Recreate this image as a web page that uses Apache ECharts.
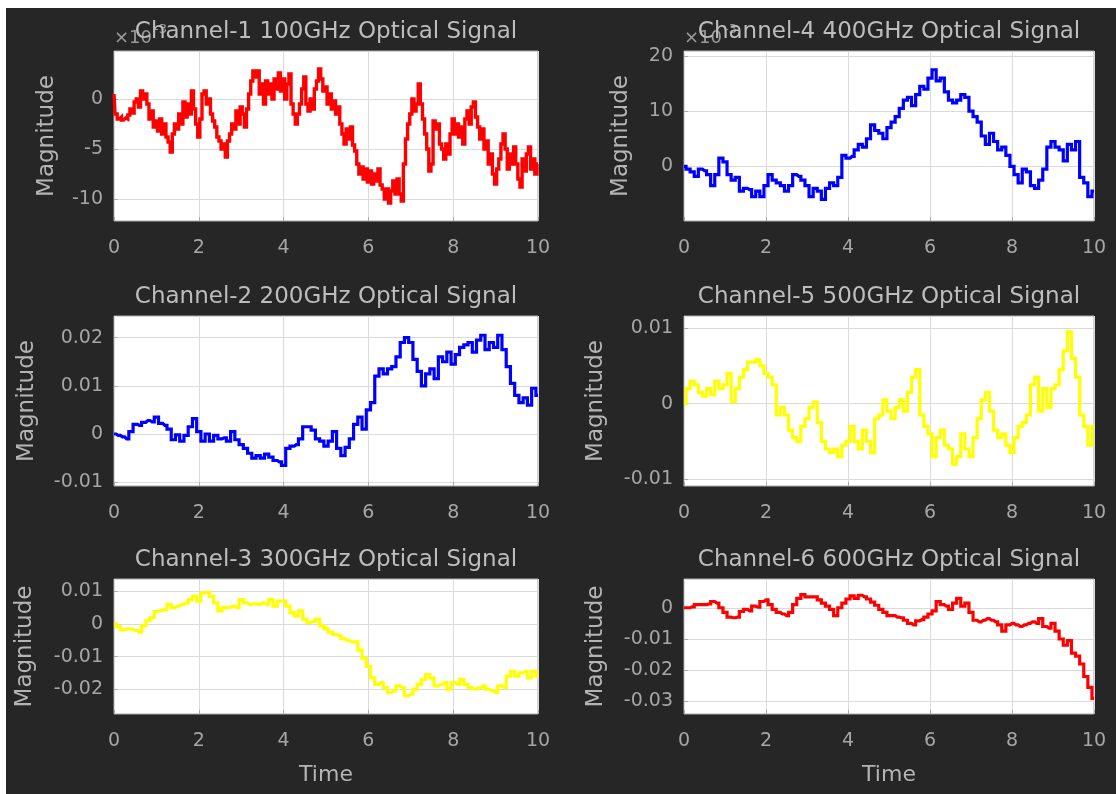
<!DOCTYPE html>
<html><head><meta charset="utf-8">
<script src="https://cdn.jsdelivr.net/npm/echarts@6/dist/echarts.min.js"></script>
<style>
html,body{margin:0;padding:0;background:#fff;}
#bg{position:absolute;left:6px;top:8px;width:1110px;height:786px;background:#262626;}
#chart{position:absolute;left:0;top:0;width:1116px;height:794px;}
</style></head><body>
<div id="bg"></div><div id="chart"></div>
<script>
// Sampling steps of the time axis (seconds)
const stepFine = 0.05;
const stepCoarse = 0.1;
const xTickInterval = 2;

const titles = [
  'Channel-1 100GHz Optical Signal',
  'Channel-2 200GHz Optical Signal',
  'Channel-3 300GHz Optical Signal',
  'Channel-4 400GHz Optical Signal',
  'Channel-5 500GHz Optical Signal',
  'Channel-6 600GHz Optical Signal'
];

// All magnitudes below are in units of 1e-3
const ch1 = [
  0.5, -1.5, -2.0, -1.8, -2.1, -1.9, -2.0, -1.6, -1.0, -1.4, -0.3, 0.0, -0.8, 0.8, 0.0, 0.5, -0.5, -2.0, -1.2, -2.8,
  -2.2, -3.2, -2.0, -3.5, -2.5, -3.8, -4.3, -5.3, -3.5, -2.5, -3.0, -1.5, -2.5, -0.3, -1.8, -0.5, -1.5, 0.8, -1.0, -2.5,
  -3.8, -2.0, 0.5, 0.8, -0.5, 0.0, -1.5, -2.2, -2.8, -3.8, -4.2, -5.0, -4.5, -5.8, -4.2, -3.5, -2.5, -3.0, -1.2, -2.5,
  -0.8, -1.5, -2.8, -1.0, 0.5, 1.8, 2.8, 2.2, 2.8, 0.5, 1.5, -0.5, 1.8, 0.5, 1.5, 0.0, 2.0, 1.0, 2.6, 0.8,
  2.0, 0.0, 1.5, 2.5, -0.5, -1.5, -2.5, -1.5, -0.5, 1.0, 2.2, -0.5, -1.2, 0.0, -1.0, 1.0, 1.8, 3.0, 2.0, 0.8,
  1.2, -0.5, 0.5, -1.0, -0.2, -1.5, -0.8, -2.5, -3.5, -4.5, -3.0, -4.0, -2.8, -4.6, -5.2, -6.5, -7.5, -6.8, -8.0, -7.0,
  -8.3, -7.2, -8.5, -7.5, -8.2, -7.0, -8.6, -9.0, -10.0, -9.0, -10.4, -9.2, -8.2, -9.5, -8.0, -9.5, -10.2, -6.5, -4.0, -2.5,
  -1.5, 0.0, -1.2, -0.5, 1.5, -0.5, -2.0, -3.5, -5.0, -7.2, -6.5, -2.2, -3.0, -2.5, -4.5, -5.0, -6.0, -4.5, -5.5, -3.5,
  -2.0, -3.5, -2.5, -3.8, -2.8, -4.5, -2.0, -1.2, -2.5, -0.8, -0.3, -1.8, -2.8, -4.0, -3.0, -5.0, -4.2, -6.5, -5.5, -7.5,
  -8.5, -7.0, -6.0, -4.5, -3.5, -5.0, -7.0, -5.5, -6.5, -4.8, -6.5, -8.0, -8.8, -6.0, -7.2, -5.5, -4.8, -7.0, -6.0, -7.5,
  -6.5
];
const ch2 = [
  0, -0.3, -0.6, -1.0, 0.5, 2.0, 1.8, 2.4, 2.8, 2.5,
  3.5, 2.2, 1.8, 1.0, -1.2, -0.2, -1.5, -0.3, 1.5, 3.2,
  0.5, -1.5, 0.0, -1.5, -0.3, -1.0, -0.8, -1.5, 0.5, -1.2,
  -2.2, -3.0, -4.0, -5.0, -4.5, -5.0, -4.2, -4.8, -5.5, -5.8,
  -6.5, -3.0, -2.5, -2.2, -1.0, 1.5, 1.5, 0.8, -1.0, -1.5,
  -2.5, -1.5, 0.5, -3.0, -4.5, -2.8, -1.0, 2.0, 3.5, 1.0,
  5.0, 6.5, 12.0, 13.5, 12.5, 13.5, 14.0, 16.0, 19.0, 20.0,
  19.0, 15.5, 13.0, 10.0, 12.5, 13.5, 11.5, 16.0, 15.0, 17.0,
  14.5, 16.5, 18.0, 18.5, 19.0, 17.0, 19.5, 20.5, 17.5, 19.0,
  18.0, 20.5, 17.5, 14.0, 10.5, 8.0, 6.5, 7.5, 6.0, 9.5,
  8.0
];
const ch3 = [
  0, -0.8, -1.8, -1.5, -1.6, -2.0, -2.5, -0.5, 1.0, 2.0,
  3.8, 4.2, 4.5, 6.0, 5.0, 5.5, 6.0, 6.5, 7.5, 8.5,
  7.0, 9.5, 9.8, 8.5, 6.5, 4.0, 5.0, 5.0, 5.5, 5.0,
  7.5, 6.5, 6.0, 6.2, 6.0, 6.5, 6.0, 7.5, 5.5, 7.0,
  7.0, 5.5, 3.5, 2.5, 4.0, 1.5, 0.5, 0.8, 1.5, -0.5,
  -1.5, -2.5, -3.2, -3.5, -4.5, -5.0, -5.5, -5.5, -8.0, -10.5,
  -13.0, -16.5, -18.5, -18.0, -19.5, -21.0, -20.5, -19.0, -19.5, -22.0,
  -21.5, -20.0, -18.5, -17.0, -15.5, -16.5, -19.0, -18.5, -18.0, -20.0,
  -18.0, -18.5, -17.0, -18.5, -19.5, -20.0, -19.5, -19.0, -20.0, -20.5,
  -21.0, -19.0, -19.5, -16.0, -14.5, -16.0, -15.0, -14.5, -16.5, -14.5,
  -16.0
];
const ch4 = [
  0, -0.5, -1.0, -1.8, -0.5, -0.8, -1.5, -3.5, -1.5, 1.5,
  0.8, -1.5, -2.5, -2.0, -4.5, -4.0, -4.2, -5.5, -4.5, -5.5,
  -3.5, -1.5, -2.5, -3.0, -3.5, -4.5, -3.5, -1.5, -1.8, -2.5,
  -3.5, -5.5, -4.0, -4.5, -6.0, -4.0, -3.0, -3.5, -2.0, 2.0,
  1.5, 1.8, 3.0, 4.0, 3.5, 5.0, 7.5, 6.5, 6.0, 5.0,
  7.0, 8.0, 9.0, 10.5, 12.0, 12.5, 11.0, 13.0, 14.5, 14.0,
  16.0, 17.5, 15.5, 16.0, 13.5, 12.0, 11.5, 12.0, 13.0, 12.5,
  10.0, 9.0, 8.0, 5.5, 4.0, 6.0, 4.5, 3.0, 3.5, 2.0,
  0.0, -1.5, -3.0, -0.5, -1.0, -3.5, -4.0, -2.5, -0.5, 3.5,
  4.5, 3.5, 3.0, 1.0, 4.0, 3.0, 4.5, -2.0, -3.0, -5.5,
  -4.5
];
const ch5 = [
  0, 2.0, 3.0, 2.5, 1.5, 1.0, 2.0, 1.2, 3.0, 2.0,
  2.5, 4.0, 0.3, 2.0, 3.5, 4.5, 5.5, 5.5, 5.8, 5.0,
  4.0, 3.5, 2.5, -1.5, -0.5, -1.5, -3.5, -4.5, -5.0, -3.0,
  -2.0, -0.5, 0.2, -2.5, -5.0, -6.0, -6.5, -6.0, -7.0, -5.5,
  -5.0, -3.0, -5.0, -6.0, -3.5, -5.0, -6.5, -2.0, -1.5, 0.5,
  -1.0, -2.0, -0.5, 0.5, -1.0, 1.5, 3.5, 4.5, -1.5, -3.0,
  -4.0, -7.0, -4.5, -3.5, -5.5, -6.0, -8.0, -7.0, -4.0, -6.0,
  -7.0, -4.5, -2.0, 0.5, 1.5, -1.0, -3.5, -4.5, -4.0, -5.5,
  -6.5, -4.5, -3.0, -2.5, -1.5, 2.5, 3.5, -1.0, 2.0, -0.5,
  2.0, 2.5, 4.5, 7.0, 9.5, 6.0, 3.5, -1.5, -3.0, -5.5,
  -3.0
];
const ch6 = [
  0, 0, 0.3, 1.0, 1.0, 1.0, 1.2, 2.0, 1.5, 0.0,
  -1.5, -3.0, -3.2, -3.0, -1.2, -0.5, -1.0, 0.5, 0.2, 2.0,
  2.5, 1.0, -0.5, -1.5, -2.0, -2.5, -1.5, 1.0, 3.0, 4.2,
  3.5, 3.5, 3.5, 2.5, 1.5, 0.5, -0.5, -2.5, 0.0, 1.5,
  2.8, 3.8, 3.0, 4.0, 3.5, 2.8, 1.8, 0.8, -0.5, -1.5,
  -2.5, -2.5, -3.0, -3.2, -4.0, -5.0, -5.5, -4.2, -3.8, -3.0,
  -2.0, -1.0, 2.0, 1.0, 0.5, -0.5, 1.5, 3.0, 0.5, 1.5,
  -1.5, -4.0, -4.5, -4.0, -3.5, -4.0, -4.5, -5.5, -7.5, -5.5,
  -5.0, -5.5, -6.0, -5.5, -5.0, -4.5, -5.0, -3.5, -6.0, -6.5,
  -5.0, -7.5, -10.0, -12.0, -10.5, -14.5, -15.5, -18.0, -22.0, -25.5,
  -29.0
];

// y-axis tick values (in 1e-3 units) and ranges
const yTicks1 = [-10, -5, 0];
const yTicks2 = [-10, 0, 10, 20];
const yTicks3 = [-20, -10, 0, 10];
const yTicks4 = [0, 10, 20];
const yTicks5 = [-10, 0, 10];
const yTicks6 = [-30, -20, -10, 0];
const yRange1 = [-12.2, 4.8];
const yRange2 = [-10.8, 24.5];
const yRange3 = [-27.6, 13.8];
const yRange4 = [-9.9, 20.9];
const yRange5 = [-10.9, 11.6];
const yRange6 = [-34.0, 9.2];

const FONT = 'DejaVu Sans';
const TICK_COLOR = '#a6a6a6';
const NAME_COLOR = '#b4b4b4';
const TITLE_COLOR = '#bdbdbd';

const panels = [
  { title: titles[0], data: ch1, step: stepFine, color: '#ff0000', range: yRange1, ticks: yTicks1, exp: true,
    rect: { left: 114, top: 51, width: 424, height: 170 }, nameGap: 55, time: false },
  { title: titles[1], data: ch2, step: stepCoarse, color: '#0000ff', range: yRange2, ticks: yTicks2, exp: false,
    rect: { left: 114, top: 316, width: 424, height: 170 }, nameGap: 75, time: false },
  { title: titles[2], data: ch3, step: stepCoarse, color: '#ffff00', range: yRange3, ticks: yTicks3, exp: false,
    rect: { left: 114, top: 579, width: 424, height: 135 }, nameGap: 77, time: true },
  { title: titles[3], data: ch4, step: stepCoarse, color: '#0000ff', range: yRange4, ticks: yTicks4, exp: true,
    rect: { left: 684, top: 51, width: 410, height: 170 }, nameGap: 51, time: false },
  { title: titles[4], data: ch5, step: stepCoarse, color: '#ffff00', range: yRange5, ticks: yTicks5, exp: false,
    rect: { left: 684, top: 316, width: 410, height: 170 }, nameGap: 76, time: false },
  { title: titles[5], data: ch6, step: stepCoarse, color: '#ff0000', range: yRange6, ticks: yTicks6, exp: false,
    rect: { left: 684, top: 579, width: 410, height: 135 }, nameGap: 76, time: true }
];

function fmtScaled(v) {
  if (v === 0) return '0';
  return String(+(v / 1000).toFixed(4));
}

const grids = [], xAxes = [], yAxes = [], series = [], graphics = [];
panels.forEach((p, i) => {
  grids.push(Object.assign({ show: true, backgroundColor: '#ffffff', borderColor: '#ababab', borderWidth: 1, containLabel: false }, p.rect));
  xAxes.push({
    type: 'value', gridIndex: i, min: 0, max: 10, interval: xTickInterval,
    axisLine: { show: false, onZero: false },
    axisTick: { show: true, inside: true, length: 4, lineStyle: { color: '#ababab' } },
    axisLabel: { color: TICK_COLOR, fontSize: 19, fontFamily: FONT, margin: 18 },
    splitLine: { show: true, lineStyle: { color: '#dadada', width: 1 } },
    name: p.time ? 'Time' : '', nameLocation: 'middle', nameGap: 50,
    nameTextStyle: { color: NAME_COLOR, fontSize: 22, fontFamily: FONT }
  });
  yAxes.push({
    type: 'value', gridIndex: i, min: p.range[0], max: p.range[1],
    axisLine: { show: false, onZero: false },
    axisTick: { show: true, inside: true, length: 4, customValues: p.ticks, lineStyle: { color: '#ababab' } },
    axisLabel: { color: TICK_COLOR, fontSize: 19, fontFamily: FONT, margin: 11, customValues: p.ticks,
      formatter: p.exp ? (v => String(v)) : fmtScaled },
    splitLine: { show: true, lineStyle: { color: '#dadada', width: 1 } },
    name: 'Magnitude', nameLocation: 'middle', nameRotate: 90, nameGap: p.nameGap,
    nameTextStyle: { color: NAME_COLOR, fontSize: 23, fontFamily: FONT }
  });
  series.push({
    type: 'line', xAxisIndex: i, yAxisIndex: i, showSymbol: false, clip: true, step: 'middle',
    lineStyle: { color: p.color, width: i === 0 ? 3.4 : 3.2, join: 'miter' }, color: p.color,
    data: p.data.map((v, k) => [k * p.step, v])
  });
  const cx = p.rect.left + p.rect.width / 2;
  if (p.exp) {
    graphics.push({ type: 'text', x: p.rect.left, y: p.rect.top - 13, z: 1,
      style: { text: '×10', fill: '#9a9a9a', font: '18px "' + FONT + '"', align: 'left', verticalAlign: 'middle' } });
    graphics.push({ type: 'text', x: p.rect.left + 40, y: p.rect.top - 21, z: 1,
      style: { text: '-3', fill: '#9a9a9a', font: '13px "' + FONT + '"', align: 'left', verticalAlign: 'middle' } });
  }
  graphics.push({ type: 'text', x: cx, y: p.rect.top - 19, z: 5,
    style: { text: p.title, fill: TITLE_COLOR, font: '23px "' + FONT + '"', align: 'center', verticalAlign: 'middle' } });
});

const chart = echarts.init(document.getElementById('chart'), null, { renderer: 'canvas' });
chart.setOption({
  animation: false,
  backgroundColor: 'transparent',
  grid: grids, xAxis: xAxes, yAxis: yAxes, series: series,
  graphic: graphics
});
</script>
</body></html>
